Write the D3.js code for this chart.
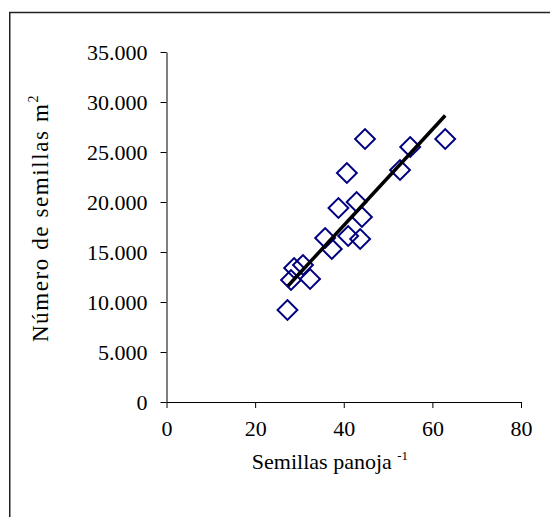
<!DOCTYPE html>
<html>
<head>
<meta charset="utf-8">
<script src="https://cdn.jsdelivr.net/npm/d3@7"></script>
<style>
  html, body { margin: 0; padding: 0; background: #fff; }
  svg { display: block; }
  text { font-family: "Liberation Serif", "Times New Roman", serif; fill: #000; }
</style>
</head>
<body>
<div id="chart"></div>
<script>
// Data
const seedsPerPanicle = [44.8, 55.0, 62.9, 40.7, 52.7, 38.8, 42.9, 44.1, 41.0, 43.7, 35.8, 37.3, 28.8, 30.8, 28.1, 32.4, 27.3];
const seedsPerM2      = [26300, 25500, 26300, 22900, 23200, 19400, 20000, 18500, 16600, 16300, 16400, 15300, 13400, 13700, 12200, 12300, 9200];
const trendX = [27.4, 62.9];
const trendY = [11600, 28650];
const xTicks = [0, 20, 40, 60, 80];
const yTicks = [0, 5000, 10000, 15000, 20000, 25000, 30000, 35000];
const xLabel = "Semillas panoja";
const xLabelSup = "-1";
const yLabel = "Número de semillas m";
const yLabelSup = "2";

const W = 550, H = 517;
const svg = d3.select("#chart").append("svg").attr("width", W).attr("height", H);

// outer frame (extends beyond the right/bottom edges as in the reference)
svg.append("rect")
  .attr("x", 9.75).attr("y", 12.5).attr("width", 560).attr("height", 530)
  .attr("fill", "none").attr("stroke", "#222").attr("stroke-width", 1.5);

const x = d3.scaleLinear().domain([0, 80]).range([166.5, 521]);
const y = d3.scaleLinear().domain([0, 35000]).range([402, 52]);

const fmt = d => d === 0 ? "0" : d3.format(",")(d).replace(/,/g, ".");

const xAxis = svg.append("g").attr("transform", `translate(0,${y(0)})`)
  .call(d3.axisBottom(x).tickValues(xTicks).tickSize(6).tickSizeOuter(0).tickPadding(12));
const yAxis = svg.append("g").attr("transform", `translate(${x(0)},0)`)
  .call(d3.axisLeft(y).tickValues(yTicks).tickSize(6).tickSizeOuter(0).tickPadding(13).tickFormat(fmt));

[xAxis, yAxis].forEach(g => {
  g.selectAll("path, line").attr("stroke", "#000").attr("stroke-width", 1);
  g.selectAll("text").attr("font-size", 22).attr("font-family", "Liberation Serif, serif").attr("fill", "#000");
});

// x-axis title
const xt = svg.append("text").attr("x", 330).attr("y", 469).attr("text-anchor", "middle").attr("font-size", 22);
xt.append("tspan").text(xLabel + " ");
xt.append("tspan").attr("font-size", 13).attr("dy", -9).text(xLabelSup);

// y-axis title
const yt = svg.append("text")
  .attr("transform", `translate(48,${218}) rotate(-90)`)
  .attr("text-anchor", "middle").attr("font-size", 23).attr("letter-spacing", 1.6);
yt.append("tspan").text(yLabel);
yt.append("tspan").attr("font-size", 14).attr("dy", -10).text(yLabelSup);

// points: hollow diamonds
const data = seedsPerPanicle.map((v, i) => ({ x: v, y: seedsPerM2[i] }));
const sq = d3.symbol().type(d3.symbolSquare).size(196);
svg.append("g").selectAll("path").data(data).join("path")
  .attr("d", sq)
  .attr("transform", d => `translate(${x(d.x)},${y(d.y)}) rotate(45)`)
  .attr("fill", "none").attr("stroke", "#000080").attr("stroke-width", 2);

// trend line
svg.append("path")
  .datum(trendX.map((v, i) => [v, trendY[i]]))
  .attr("d", d3.line().x(d => x(d[0])).y(d => y(d[1])))
  .attr("stroke", "#000").attr("stroke-width", 3.5).attr("fill", "none");
</script>
</body>
</html>
